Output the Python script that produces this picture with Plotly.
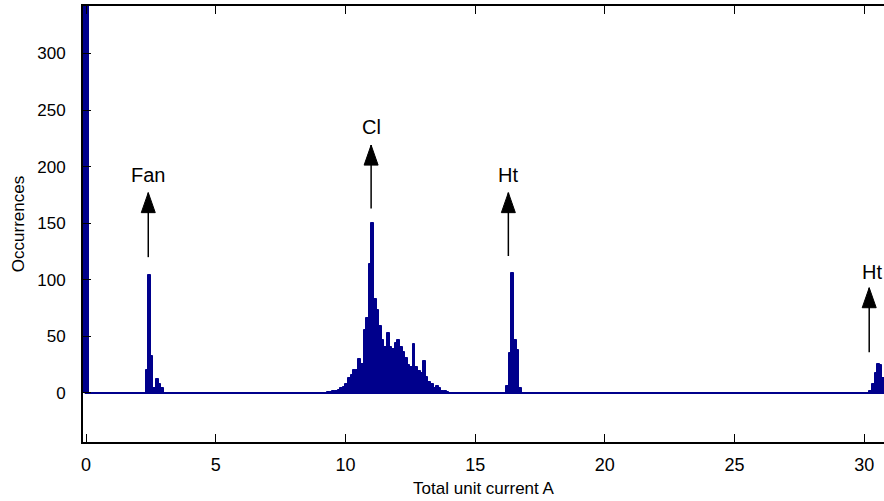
import plotly.graph_objects as go

# Histogram of total unit current (bin width 0.1 A), bins listed by centre
bin_width = 0.1
idle_x = [-0.05, 0.05]
idle_n = [1400, 900]

fan_x = [2.35, 2.45, 2.55, 2.65, 2.75, 2.85, 2.95]
fan_n = [20, 104, 33, 4, 12, 8, 4]

cl_x = [9.35, 9.45, 9.55, 9.65, 9.75, 9.85, 9.95, 10.05, 10.15, 10.25,
        10.35, 10.45, 10.55, 10.65, 10.75, 10.85, 10.95, 11.05, 11.15, 11.25,
        11.35, 11.45, 11.55, 11.65, 11.75, 11.85, 11.95, 12.05, 12.15, 12.25,
        12.35, 12.45, 12.55, 12.65, 12.75, 12.85, 12.95, 13.05, 13.15, 13.25,
        13.35, 13.45, 13.55, 13.65, 13.75, 13.85, 13.95]
cl_n = [1, 1, 2, 2, 3, 4, 5, 8, 13, 16,
        20, 20, 30, 26, 56, 66, 114, 150, 83, 73,
        59, 47, 41, 53, 41, 39, 44, 47, 41, 36,
        31, 25, 23, 43, 23, 19, 18, 28, 14, 10,
        8, 4, 6, 4, 2, 2, 1]

ht_x = [16.25, 16.35, 16.45, 16.55, 16.65, 16.75]
ht_n = [6, 35, 106, 47, 38, 4]

ht2_x = [30.25, 30.35, 30.45, 30.55, 30.65, 30.75]
ht2_n = [2, 8, 18, 26, 25, 13]

centres = idle_x + fan_x + cl_x + ht_x + ht2_x
counts = idle_n + fan_n + cl_n + ht_n + ht2_n

# Appliance labels with arrows: x position, arrow tail, arrow tip, label height
labels = ["Fan", "Cl", "Ht", "Ht"]
arrow_x = [2.40, 10.99, 16.28, 30.19]
arrow_tail = [120, 163, 121, 36]
arrow_tip = [177, 219, 177, 93]
label_x = [2.40, 10.99, 16.28, 30.30]
label_y = [193, 235, 193, 107]

x_ticks = [0, 5, 10, 15, 20, 25, 30]
y_ticks = [0, 50, 100, 150, 200, 250, 300]
x_range = [-0.116, 30.76]
y_range = [-43.3, 341.9]

NAVY = "rgb(0,0,140)"
FONT = "Liberation Sans, Arial, sans-serif"

fig = go.Figure()

# zero-count bins show as a flat line along the baseline
fig.add_trace(go.Scatter(
    x=[min(centres), x_range[1]], y=[0, 0], mode="lines",
    line=dict(color=NAVY, width=2), hoverinfo="skip", showlegend=False))

fig.add_trace(go.Bar(
    x=centres, y=counts, width=bin_width,
    marker=dict(color=NAVY, line=dict(color=NAVY, width=1)),
    showlegend=False))

shapes = []
annotations = []
for name, ax_, t0, t1, lx, ly in zip(labels, arrow_x, arrow_tail, arrow_tip,
                                     label_x, label_y):
    shapes.append(dict(type="line", xref="x", yref="y", x0=ax_, x1=ax_,
                       y0=t0, y1=t1, line=dict(color="black", width=1.5)))
    shapes.append(dict(type="path", xref="x", yref="y",
                       xsizemode="pixel", ysizemode="pixel",
                       xanchor=ax_, yanchor=t1,
                       path="M0,0 L-7,-20 L7,-20 Z",
                       fillcolor="black", line=dict(color="black", width=1)))
    annotations.append(dict(x=lx, y=ly, xref="x", yref="y", text=name,
                            showarrow=False,
                            font=dict(family=FONT, size=20, color="black")))

fig.update_layout(
    width=884, height=501,
    margin=dict(l=83, r=0, t=6, b=59),
    paper_bgcolor="white", plot_bgcolor="white",
    bargap=0,
    font=dict(family=FONT, size=17, color="black"),
    shapes=shapes, annotations=annotations,
    xaxis=dict(range=x_range, tickvals=x_ticks, ticks="inside", ticklen=8,
               tickcolor="black", showline=True, linecolor="black",
               linewidth=2, mirror="ticks", showgrid=False, zeroline=False,
               ticklabelstandoff=5, tickfont=dict(size=18),
               title=dict(text="Total unit current A", standoff=9,
                          font=dict(size=17))),
    yaxis=dict(range=y_range, tickvals=y_ticks, ticks="inside", ticklen=8,
               tickcolor="black", showline=True, linecolor="black",
               linewidth=2, showgrid=False, zeroline=False,
               ticklabelstandoff=12,
               title=dict(text="Occurrences", standoff=8,
                          font=dict(size=17))),
    yaxis2=dict(range=y_range, tickvals=y_ticks, ticks="inside", ticklen=3,
                tickcolor="black", overlaying="y", side="right",
                showticklabels=False, showline=False, showgrid=False,
                zeroline=False),
)

fig.write_html("out.html")
